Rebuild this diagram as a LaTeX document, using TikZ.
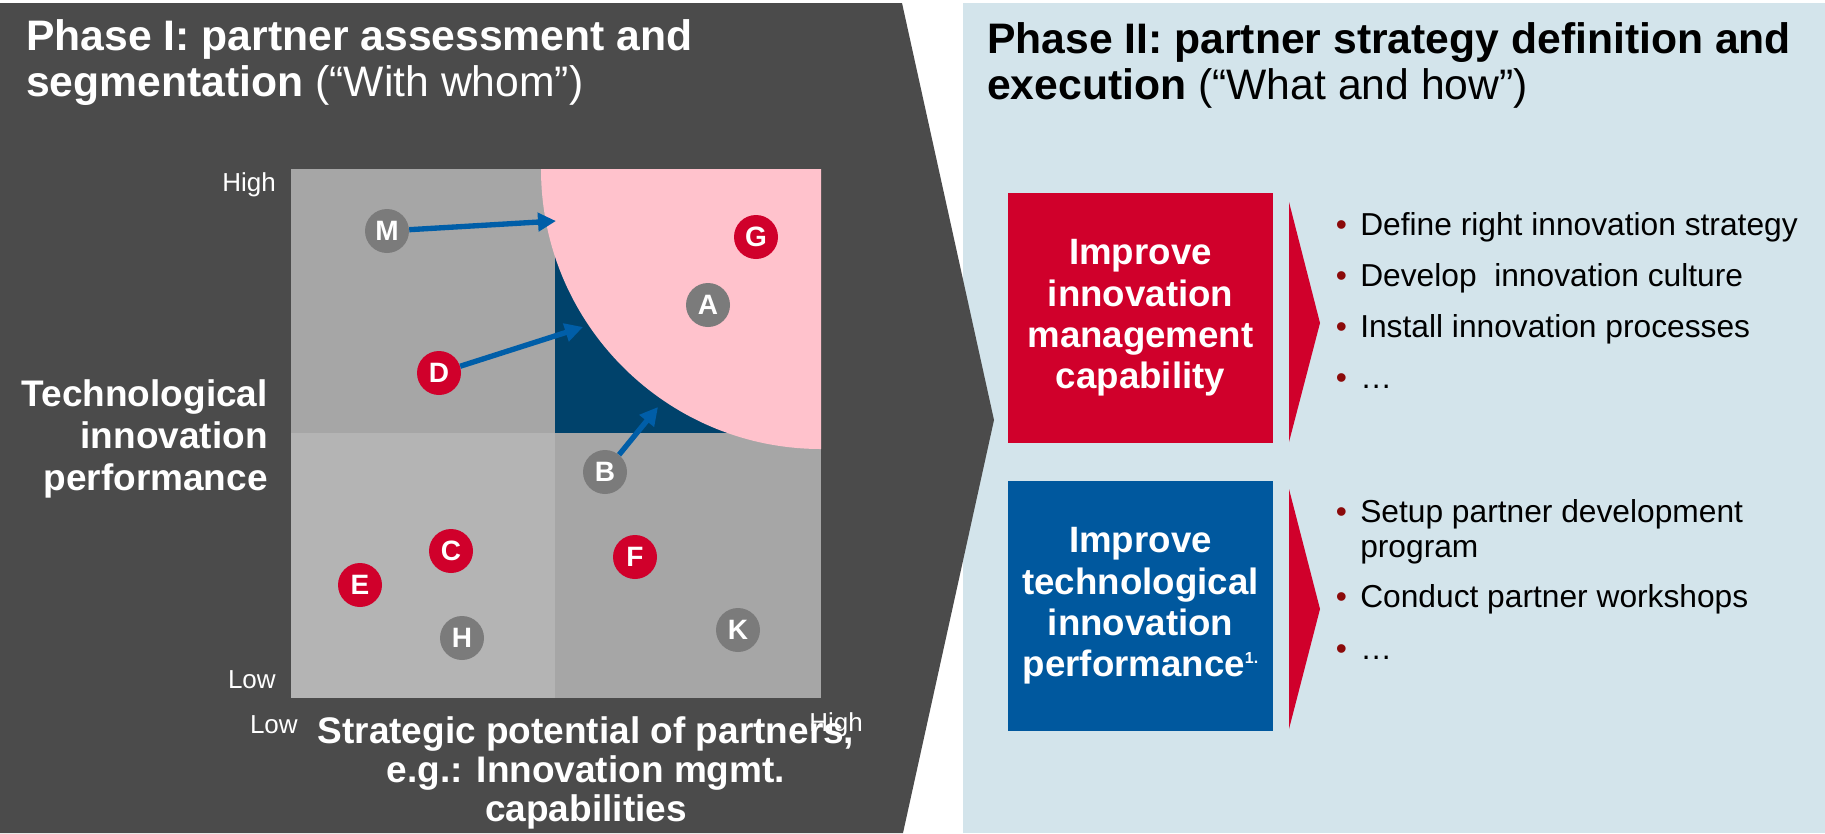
\documentclass[tikz,border=0pt]{standalone}
\usepackage{fontspec}
\setmainfont{Liberation Sans}
\usetikzlibrary{arrows.meta}

\definecolor{panelDark}{HTML}{4B4B4B}
\definecolor{panelBlue}{HTML}{D3E4EB}
\definecolor{quadMid}{HTML}{A6A6A6}
\definecolor{quadLight}{HTML}{B4B4B4}
\definecolor{quadBlue}{HTML}{00426B}
\definecolor{pinkZone}{HTML}{FFC2CC}
\definecolor{partnerRed}{HTML}{D0002B}
\definecolor{partnerGray}{HTML}{7B7B7B}
\definecolor{arrowBlue}{HTML}{005EA8}
\definecolor{boxBlue}{HTML}{00589E}
\definecolor{bulletRed}{HTML}{8B0A0A}

\tikzset{
    phasetitle/.style={inner sep=0pt,align=left,font=\fontsize{32}{34.5}\selectfont},
    axistitle/.style={inner sep=0pt,text=white,font=\bfseries\fontsize{27.75}{29.5}\selectfont},
    scalelabel/.style={inner sep=0pt,text=white,font=\fontsize{19.5}{19.5}\selectfont},
    partner/.style={circle,inner sep=0pt,minimum size=33pt,text=white,
        font=\bfseries\fontsize{21}{21}\selectfont},
    redpartner/.style={partner,fill=partnerRed},
    graypartner/.style={partner,fill=partnerGray},
    pull/.style={draw=arrowBlue,line width=4pt,-{Triangle[length=13.5pt,width=13.5pt]}},
    actionbox/.style={minimum width=198.75pt,minimum height=187.5pt,inner sep=0pt,
        align=center,text=white,font=\bfseries\fontsize{27.5}{31}\selectfont},
    measure/.style={inner sep=0pt,align=left,font=\fontsize{23.8}{26.5}\selectfont}
}
\newcommand{\blt}{\llap{\textcolor{bulletRed}{•}\hspace{10pt}}}

\begin{document}
\begin{tikzpicture}[x=0.75pt,y=-0.75pt]
    \useasboundingbox (0,0) rectangle (1825,833);
    %% Panels
    \fill[panelBlue] (963,3) rectangle (1825,833);
    \fill[panelDark] (0,3) -- (902,3) -- (994,420) -- (903,833) -- (0,833) -- cycle;
    %% Titles
    \node[phasetitle,text=white,anchor=north west] (phaseOne) at (26,19)
        {\textbf{Phase I: partner assessment and}\\\textbf{segmentation} (“With whom”)};
    \node[phasetitle,text=black,anchor=north west] (phaseTwo) at (987,22)
        {\textbf{Phase II: partner strategy definition and}\\\textbf{execution} (“What and how”)};
    %% Matrix
    \fill[quadMid]   (291,169) rectangle (555,433);
    \fill[quadBlue]  (555,169) rectangle (821,433);
    \fill[quadLight] (291,433) rectangle (555,698);
    \fill[quadMid]   (555,433) rectangle (821,698);
    \fill[pinkZone] (821,169) -- (541,169) arc[start angle=180,end angle=90,radius=280] -- cycle;
    %% Scale labels
    \node[scalelabel,anchor=east] (yHigh) at (276,185) {High};
    \node[scalelabel,anchor=east] (yLow)  at (276,680) {Low};
    \node[scalelabel,anchor=east] (xLow)  at (298,725) {Low};
    \node[scalelabel,anchor=west] (xHigh) at (809,725) {High};
    %% Axis titles
    \node[axistitle,align=right,anchor=north east,
          font=\bfseries\fontsize{27.75}{31.5}\selectfont] (yTitle) at (268,379)
        {Technological\\innovation\\performance};
    \node[axistitle,align=center,anchor=north] (xTitle) at (586,716)
        {Strategic potential of partners,\\e.g.: Innovation mgmt.\\capabilities};
    %% Partners
    \node[graypartner] (M) at (387,231) {M};
    \node[redpartner]  (G) at (756,237) {G};
    \node[graypartner] (A) at (708,305) {A};
    \node[redpartner]  (D) at (439,373) {D};
    \node[graypartner] (B) at (605,472) {B};
    \node[redpartner]  (C) at (451,551) {C};
    \node[redpartner]  (E) at (360,585) {E};
    \node[graypartner] (H) at (462,638) {H};
    \node[redpartner]  (F) at (635,557) {F};
    \node[graypartner] (K) at (738,630) {K};
    %% Development arrows
    \coordinate (Mtip) at (556,221);
    \coordinate (Dtip) at (583,327);
    \coordinate (Btip) at (658,407);
    \draw[pull] (M) -- (Mtip);
    \draw[pull] (D) -- (Dtip);
    \draw[pull] (B) -- (Btip);
    %% Phase II actions
    \node[actionbox,fill=partnerRed] (mgmtBox) at (1140.5,318)
        {Improve\\innovation\\management\\capability};
    \node[actionbox,fill=boxBlue] (techBox) at (1140.5,606)
        {Improve\\technological\\innovation\\performance\smash{\raisebox{10pt}{\fontsize{12}{12}\selectfont 1.}}};
    \fill[partnerRed] (1289,202) -- (1320,323) -- (1289,442) -- cycle;
    \fill[partnerRed] (1289,489) -- (1320,609) -- (1289,729) -- cycle;
    %% Measures
    \node[measure,anchor=base west] (mgmtA) at (1360,235) {\blt Define right innovation strategy};
    \node[measure,anchor=base west] (mgmtB) at (1360,286) {\blt Develop~ innovation culture};
    \node[measure,anchor=base west] (mgmtC) at (1360,337) {\blt Install innovation processes};
    \node[measure,anchor=base west] (mgmtD) at (1360,388) {\blt …};
    \node[measure,anchor=north west] (techA) at (1360,499) {\blt Setup partner development\\program};
    \node[measure,anchor=base west] (techB) at (1360,607) {\blt Conduct partner workshops};
    \node[measure,anchor=base west] (techC) at (1360,659) {\blt …};
\end{tikzpicture}
\end{document}
